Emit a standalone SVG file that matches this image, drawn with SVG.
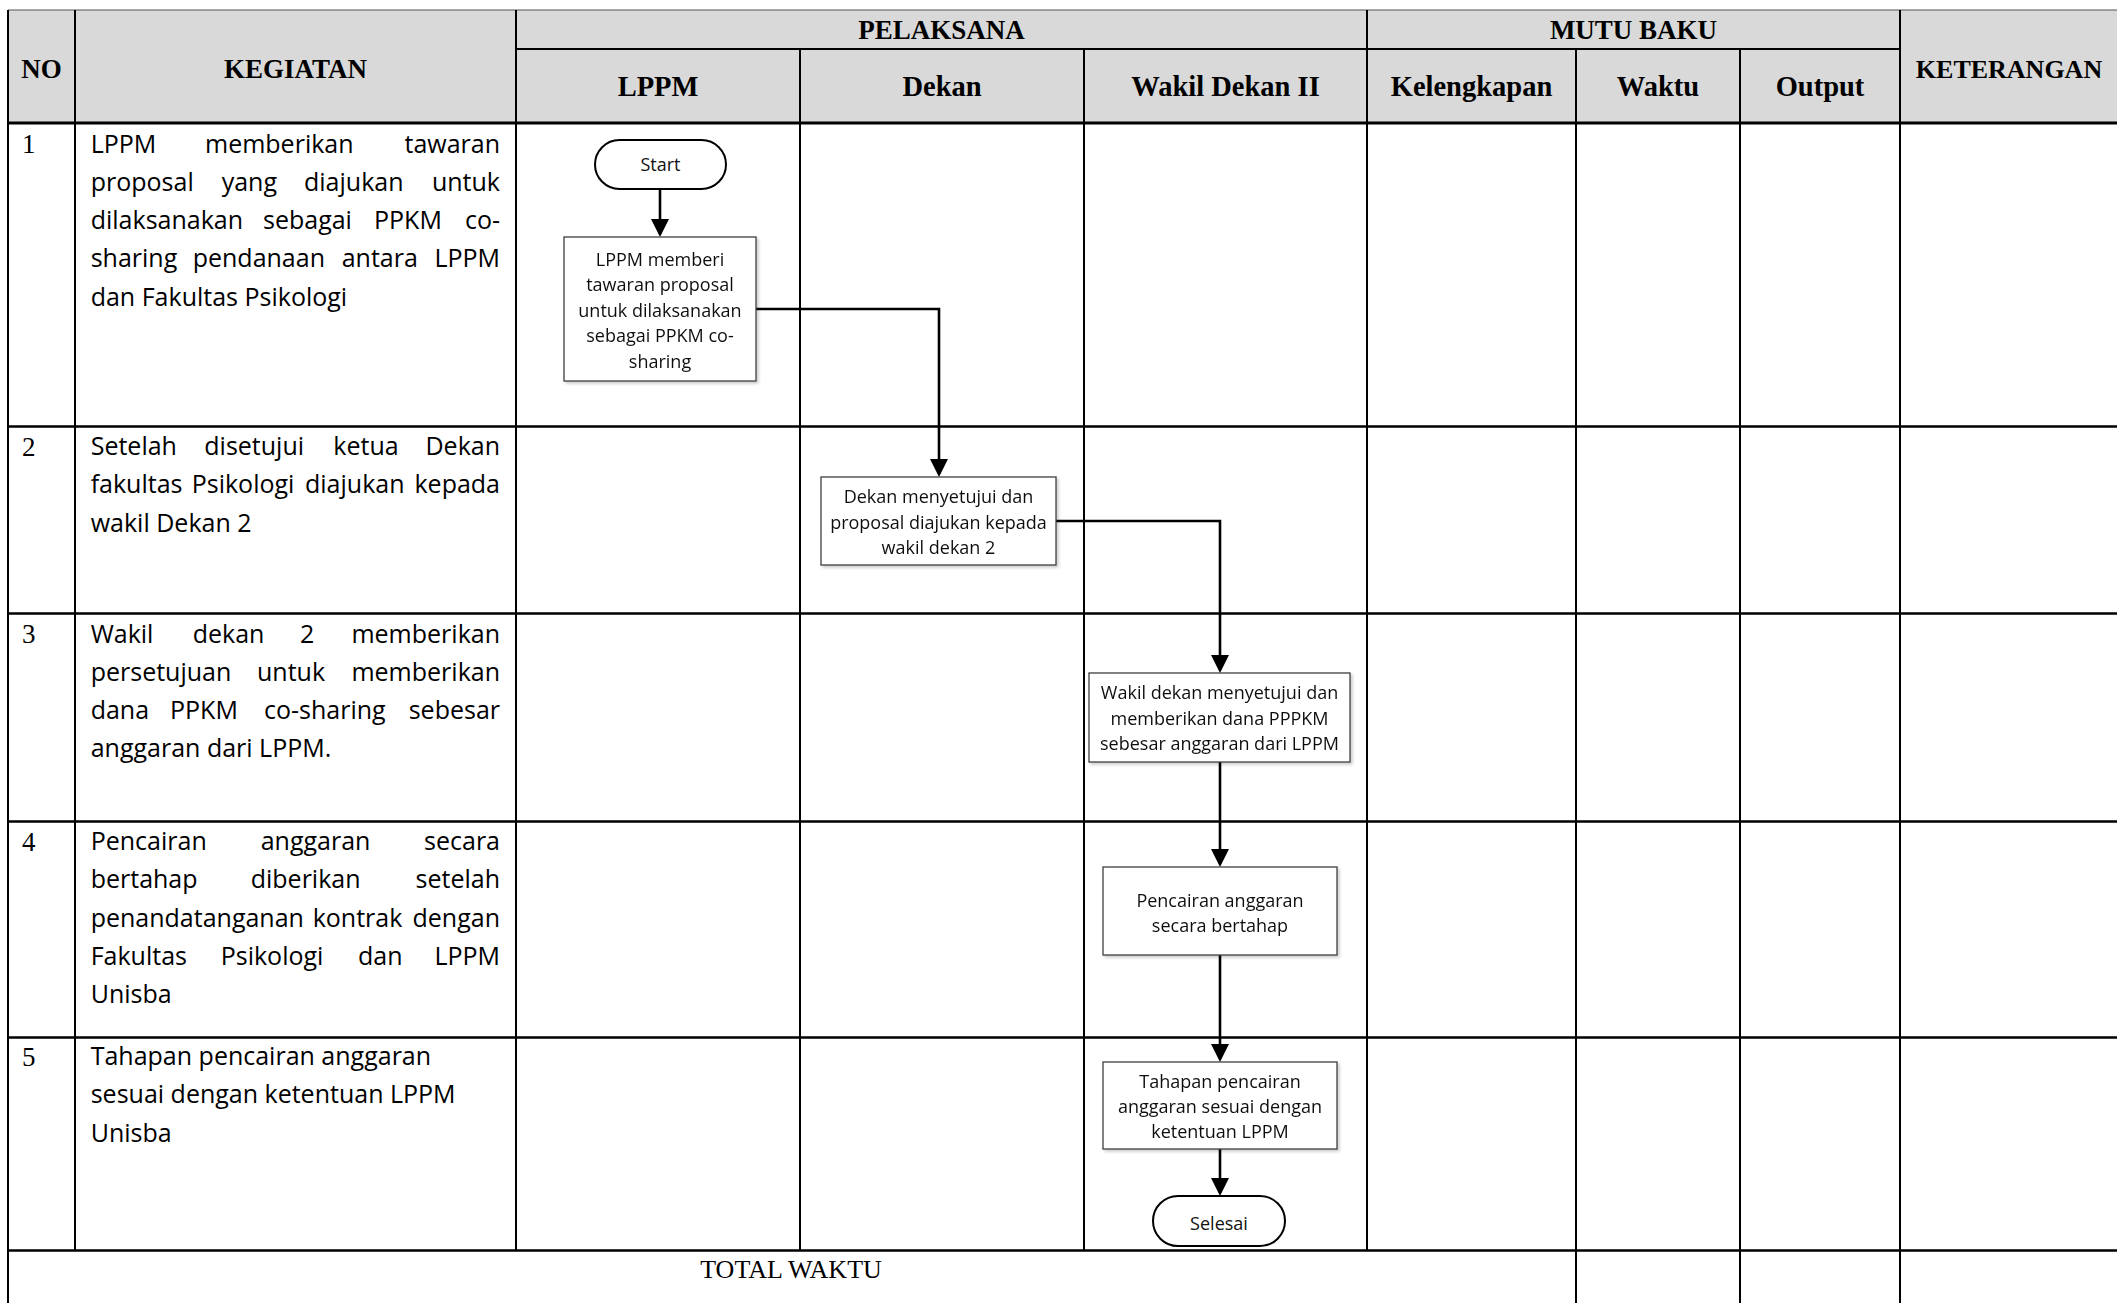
<svg xmlns="http://www.w3.org/2000/svg" width="2125" height="1303" viewBox="0 0 2125 1303">
<style>
.gh{stroke:#000;stroke-width:2.7}
.gv{stroke:#000;stroke-width:2}
.hdr{font-family:"Liberation Serif",serif;font-weight:bold;font-size:27px;text-anchor:middle;fill:#000}
.sub{font-family:"Liberation Serif",serif;font-weight:bold;font-size:28.5px;text-anchor:middle;fill:#000}
.num{font-family:"Liberation Serif",serif;font-size:27px;fill:#000}
.body{font-family:"Open Sans",sans-serif;font-size:25px;fill:#000}
.e{text-anchor:end}
.box{fill:#fff;stroke:#3f3f3f;stroke-width:1.3}
.term{fill:#fff;stroke:#000;stroke-width:2}
.nt{font-family:"Open Sans",sans-serif;font-size:18px;text-anchor:middle;fill:#111}
.conn{fill:none;stroke:#000;stroke-width:2.6}
</style>
<defs>
<marker id="arr" markerUnits="userSpaceOnUse" markerWidth="18" markerHeight="18" refX="15" refY="9" orient="auto">
<path d="M0,0 L18,9 L0,18 Z" fill="#000"/>
</marker>
<filter id="sh" x="-10%" y="-10%" width="130%" height="130%">
<feDropShadow dx="2" dy="2" stdDeviation="1.5" flood-color="#000" flood-opacity="0.2"/>
</filter>
</defs>
<rect width="2125" height="1303" fill="#fff"/>
<g id="table">
<rect x="8" y="10" width="2109" height="113" fill="#d9d9d9"/>
<line x1="8" y1="10" x2="2117" y2="10" stroke="#555" stroke-width="1.2"/>
<line class="gv" x1="8" y1="10" x2="8" y2="1303"/>
<line class="gv" x1="516" y1="49" x2="1900" y2="49"/>
<line x1="8" y1="123" x2="2117" y2="123" stroke="#000" stroke-width="3"/>
<line class="gh" x1="8" y1="426.5" x2="2117" y2="426.5"/>
<line class="gh" x1="8" y1="613.5" x2="2117" y2="613.5"/>
<line class="gh" x1="8" y1="821.5" x2="2117" y2="821.5"/>
<line class="gh" x1="8" y1="1037.5" x2="2117" y2="1037.5"/>
<line class="gh" x1="8" y1="1250.5" x2="2117" y2="1250.5"/>
<line class="gv" x1="75" y1="10" x2="75" y2="1250.5"/>
<line class="gv" x1="516" y1="10" x2="516" y2="1250.5"/>
<line class="gv" x1="800" y1="49" x2="800" y2="1250.5"/>
<line class="gv" x1="1084" y1="49" x2="1084" y2="1250.5"/>
<line class="gv" x1="1367" y1="10" x2="1367" y2="1250.5"/>
<line class="gv" x1="1576" y1="49" x2="1576" y2="1303"/>
<line class="gv" x1="1740" y1="49" x2="1740" y2="1303"/>
<line class="gv" x1="1900" y1="10" x2="1900" y2="1303"/>
</g>
<g id="headers">
<text class="hdr" x="41.5" y="78">NO</text>
<text class="hdr" x="295.5" y="78">KEGIATAN</text>
<text class="hdr" x="941.5" y="39">PELAKSANA</text>
<text class="hdr" x="1633.5" y="39">MUTU BAKU</text>
<text class="hdr" x="2009" y="78" style="font-size:26px">KETERANGAN</text>
<text class="sub" x="658" y="96">LPPM</text>
<text class="sub" x="942" y="96">Dekan</text>
<text class="sub" x="1225.5" y="96">Wakil Dekan II</text>
<text class="sub" x="1471.5" y="96">Kelengkapan</text>
<text class="sub" x="1658" y="96">Waktu</text>
<text class="sub" x="1820" y="96">Output</text>
<text x="791" y="1278" style="font-family:'Liberation Serif',serif;font-size:26px;text-anchor:middle">TOTAL WAKTU</text>
</g>
<g id="numbers">
<text class="num" x="22" y="153">1</text>
<text class="num" x="22" y="455.5">2</text>
<text class="num" x="22" y="643">3</text>
<text class="num" x="22" y="850.5">4</text>
<text class="num" x="22" y="1065.5">5</text>
</g>
<g id="kegiatan-1">
<text class="body" y="152.5"><tspan x="90.7">LPPM</tspan><tspan x="205">memberikan</tspan></text>
<text class="body e" x="500" y="152.5">tawaran</text>
<text class="body" y="190.8"><tspan x="90.7">proposal</tspan><tspan x="221.7">yang</tspan><tspan x="304">diajukan</tspan></text>
<text class="body e" x="500" y="190.8">untuk</text>
<text class="body" y="229.1"><tspan x="90.7">dilaksanakan</tspan><tspan x="263">sebagai</tspan><tspan x="374">PPKM</tspan></text>
<text class="body e" x="500" y="229.1">co-</text>
<text class="body" y="267.4"><tspan x="90.7">sharing</tspan><tspan x="192.7">pendanaan</tspan><tspan x="341.7">antara</tspan></text>
<text class="body e" x="500" y="267.4">LPPM</text>
<text class="body" x="90.7" y="305.7">dan Fakultas Psikologi</text>
</g>
<g id="kegiatan-2">
<text class="body" y="455"><tspan x="90.7">Setelah</tspan><tspan x="204.3">disetujui</tspan><tspan x="333.3">ketua</tspan></text>
<text class="body e" x="500" y="455">Dekan</text>
<text class="body" y="493.3"><tspan x="90.7">fakultas</tspan><tspan x="191.7">Psikologi</tspan><tspan x="305">diajukan</tspan></text>
<text class="body e" x="500" y="493.3">kepada</text>
<text class="body" x="90.7" y="531.6">wakil Dekan 2</text>
</g>
<g id="kegiatan-3">
<text class="body" y="642.5"><tspan x="90.7">Wakil</tspan><tspan x="192.7">dekan</tspan><tspan x="300">2</tspan></text>
<text class="body e" x="500" y="642.5">memberikan</text>
<text class="body" y="680.8"><tspan x="90.7">persetujuan</tspan><tspan x="257">untuk</tspan></text>
<text class="body e" x="500" y="680.8">memberikan</text>
<text class="body" y="719.1"><tspan x="90.7">dana</tspan><tspan x="170">PPKM</tspan><tspan x="264">co-sharing</tspan></text>
<text class="body e" x="500" y="719.1">sebesar</text>
<text class="body" x="90.7" y="757.4">anggaran dari LPPM.</text>
</g>
<g id="kegiatan-4">
<text class="body" y="850"><tspan x="90.7">Pencairan</tspan><tspan x="260.7">anggaran</tspan></text>
<text class="body e" x="500" y="850">secara</text>
<text class="body" y="888.3"><tspan x="90.7">bertahap</tspan><tspan x="250.7">diberikan</tspan></text>
<text class="body e" x="500" y="888.3">setelah</text>
<text class="body" y="926.6"><tspan x="90.7">penandatanganan</tspan><tspan x="312.7">kontrak</tspan></text>
<text class="body e" x="500" y="926.6">dengan</text>
<text class="body" y="964.9"><tspan x="90.7">Fakultas</tspan><tspan x="220.7">Psikologi</tspan><tspan x="358">dan</tspan></text>
<text class="body e" x="500" y="964.9">LPPM</text>
<text class="body" x="90.7" y="1003.2">Unisba</text>
</g>
<g id="kegiatan-5">
<text class="body" x="90.7" y="1065">Tahapan pencairan anggaran</text>
<text class="body" x="90.7" y="1103.3">sesuai dengan ketentuan LPPM</text>
<text class="body" x="90.7" y="1141.6">Unisba</text>
</g>
<g id="connectors">
<path class="conn" d="M660,189 V234" marker-end="url(#arr)"/>
<path class="conn" d="M756,309 H939 V474" marker-end="url(#arr)"/>
<path class="conn" d="M1056,521 H1220 V670" marker-end="url(#arr)"/>
<path class="conn" d="M1220,762 V864" marker-end="url(#arr)"/>
<path class="conn" d="M1220,955 V1059" marker-end="url(#arr)"/>
<path class="conn" d="M1220,1149 V1193" marker-end="url(#arr)"/>
</g>
<g id="node-start">
<rect class="term" x="595" y="140" width="131" height="49" rx="24.5" ry="24.5"/>
<text class="nt" x="660.5" y="171">Start</text>
</g>
<g id="node-lppm" filter="url(#sh)">
<rect class="box" x="564" y="237" width="192" height="144"/>
<text class="nt" x="660" y="265.7">LPPM memberi</text>
<text class="nt" x="660" y="291.2">tawaran proposal</text>
<text class="nt" x="660" y="316.7">untuk dilaksanakan</text>
<text class="nt" x="660" y="342.2">sebagai PPKM co-</text>
<text class="nt" x="660" y="367.7">sharing</text>
</g>
<g id="node-dekan" filter="url(#sh)">
<rect class="box" x="821" y="477" width="235" height="88"/>
<text class="nt" x="938.5" y="503.3">Dekan menyetujui dan</text>
<text class="nt" x="938.5" y="528.6">proposal diajukan kepada</text>
<text class="nt" x="938.5" y="553.9">wakil dekan 2</text>
</g>
<g id="node-wadek" filter="url(#sh)">
<rect class="box" x="1089" y="673" width="261" height="89"/>
<text class="nt" x="1219.5" y="699.3">Wakil dekan menyetujui dan</text>
<text class="nt" x="1219.5" y="724.6">memberikan dana PPPKM</text>
<text class="nt" x="1219.5" y="749.9">sebesar anggaran dari LPPM</text>
</g>
<g id="node-pencairan" filter="url(#sh)">
<rect class="box" x="1103" y="867" width="234" height="88"/>
<text class="nt" x="1220" y="906.7">Pencairan anggaran</text>
<text class="nt" x="1220" y="931.7">secara bertahap</text>
</g>
<g id="node-tahapan" filter="url(#sh)">
<rect class="box" x="1103" y="1062" width="234" height="87"/>
<text class="nt" x="1220" y="1088.3">Tahapan pencairan</text>
<text class="nt" x="1220" y="1113.3">anggaran sesuai dengan</text>
<text class="nt" x="1220" y="1138.3">ketentuan LPPM</text>
</g>
<g id="node-selesai">
<rect class="term" x="1153" y="1196" width="132" height="50" rx="25" ry="25"/>
<text class="nt" x="1219" y="1230">Selesai</text>
</g>
</svg>
